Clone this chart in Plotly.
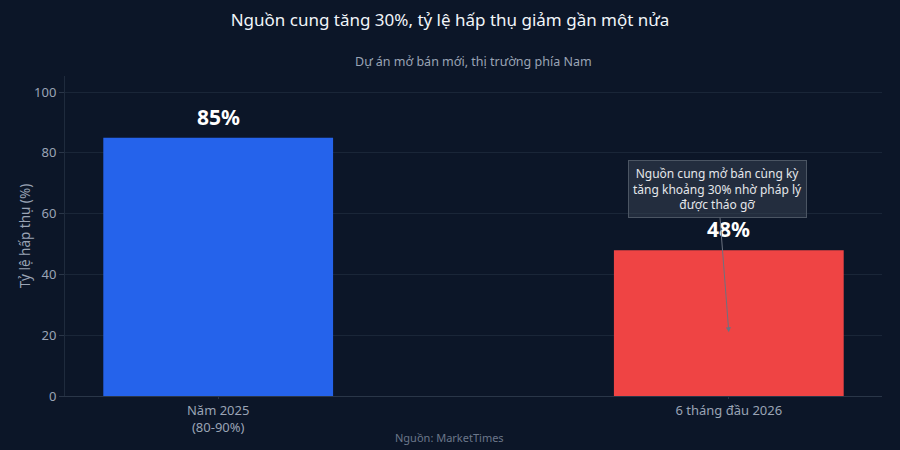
import plotly.graph_objects as go

categories = ["Năm 2025<br>(80-90%)", "6 tháng đầu 2026"]
values = [85, 48]
labels = ["85%", "48%"]
colors = ["#2563eb", "#ef4444"]

title_text = "Nguồn cung tăng 30%, tỷ lệ hấp thụ giảm gần một nửa"
subtitle_text = "Dự án mở bán mới, thị trường phía Nam"
source_text = "Nguồn: MarketTimes"
note_text = "Nguồn cung mở bán cùng kỳ<br>tăng khoảng 30% nhờ pháp lý<br>được tháo gỡ"
note_y = 21

bg = "#0c1628"
font_family = "Noto Sans"

fig = go.Figure()
fig.add_trace(go.Bar(
    x=[0, 1], y=values, marker_color=colors, marker_line_width=0,
    width=0.45, hoverinfo="skip",
))

value_labels = [
    dict(x=i, y=v, xref="x", yref="y", text=t, showarrow=False,
         xanchor="center", yanchor="bottom", yshift=5,
         font=dict(family=font_family, size=21, color="#ffffff", weight="bold"))
    for i, (v, t) in enumerate(zip(values, labels))
]

fig.update_layout(
    width=900, height=450,
    paper_bgcolor=bg, plot_bgcolor=bg,
    margin=dict(l=65, r=18, t=76, b=54),
    font=dict(family=font_family, color="#9aa4b5", size=13),
    showlegend=False,
    title=dict(text=title_text, x=0.5, xanchor="center", y=0.955, yanchor="middle",
               font=dict(family=font_family, size=17, color="#f1f5f9")),
    xaxis=dict(tickmode="array", tickvals=[0, 1], ticktext=categories,
               range=[-0.3, 1.3], showgrid=False, zeroline=False,
               showline=True, linecolor="#2a3648", ticks="outside", ticklen=2,
               tickcolor="#2a3648", tickfont=dict(size=13, color="#9aa4b5")),
    yaxis=dict(range=[0, 105.3], tickvals=[0, 20, 40, 60, 80, 100],
               gridcolor="#1a2638", zeroline=False, showline=True,
               linecolor="#1f2b3d", ticks="outside", ticklen=5, tickcolor="#2a3648",
               title=dict(text="Tỷ lệ hấp thụ (%)", font=dict(size=13.5, color="#9aa4b5"), standoff=0),
               tickfont=dict(size=13, color="#9aa4b5")),
    annotations=value_labels + [
        dict(xref="paper", yref="paper", x=0.5, y=1.0, yshift=15, text=subtitle_text,
             showarrow=False, xanchor="center", yanchor="middle",
             font=dict(size=12.5, color="#9aa4b5")),
        dict(xref="paper", yref="paper", x=0.4712, y=0, yshift=-41, text=source_text,
             showarrow=False, xanchor="center", yanchor="middle",
             font=dict(size=11, color="#6b778a")),
        dict(x=1, y=note_y, xref="x", yref="y", text=note_text, showarrow=True,
             ax=-11, ay=-143, arrowhead=2, arrowsize=1, arrowwidth=1,
             arrowcolor="#6b7280", bgcolor="rgba(55,65,81,0.55)",
             bordercolor="#4b5563", borderwidth=1, borderpad=4,
             font=dict(size=12, color="#e5e7eb"), align="center"),
    ],
)

fig.write_html("out.html", config={"displayModeBar": False})

with open("out.html", "r", encoding="utf-8") as f:
    html = f.read()
html = html.replace("<head>", "<head><style>html,body{margin:0;padding:0;background:%s;}</style>" % bg, 1)
with open("out.html", "w", encoding="utf-8") as f:
    f.write(html)
